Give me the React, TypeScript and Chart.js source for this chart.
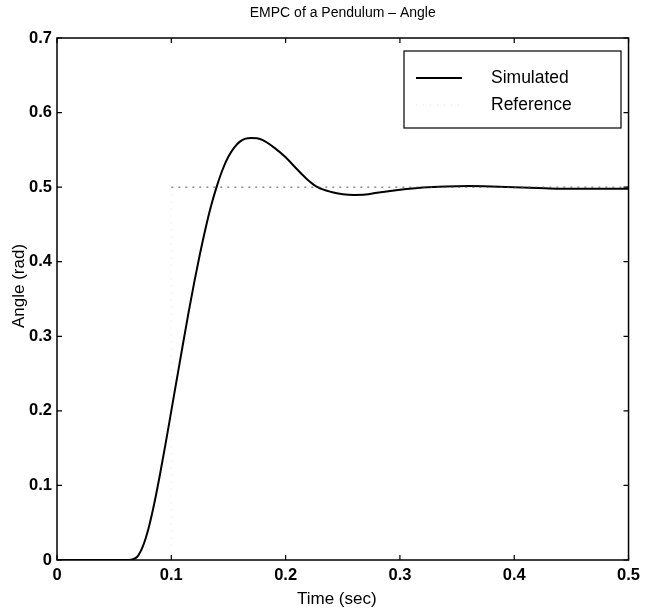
import React, { useEffect, useRef } from "react";
import { Chart, registerables } from "chart.js";

Chart.register(...registerables);

const timeSec = [0, 0.06, 0.065, 0.07, 0.075, 0.08, 0.085, 0.09, 0.095, 0.1, 0.105, 0.11, 0.115, 0.12, 0.125, 0.13, 0.135, 0.14, 0.145, 0.15, 0.155, 0.16, 0.165, 0.17, 0.175, 0.18, 0.19, 0.2, 0.21, 0.22, 0.228, 0.24, 0.25, 0.26, 0.27, 0.28, 0.3, 0.32, 0.34, 0.36, 0.38, 0.4, 0.42, 0.44, 0.47, 0.5];
const simulated = [0, 0, 0.0005, 0.004, 0.018, 0.042, 0.075, 0.114, 0.156, 0.2, 0.244, 0.288, 0.331, 0.372, 0.41, 0.445, 0.476, 0.502, 0.524, 0.541, 0.553, 0.561, 0.565, 0.566, 0.5655, 0.563, 0.553, 0.54, 0.524, 0.509, 0.5, 0.4935, 0.4905, 0.4895, 0.49, 0.4925, 0.4965, 0.4995, 0.501, 0.5015, 0.501, 0.5, 0.499, 0.498, 0.498, 0.498];

const refTime = [0, 0.1, 0.1, 0.5];
const reference = [0, 0, 0.5, 0.5];

const xTicks = [0, 0.1, 0.2, 0.3, 0.4, 0.5];
const yTicks = [0, 0.1, 0.2, 0.3, 0.4, 0.5, 0.6, 0.7];

const titleText = "EMPC of a Pendulum – Angle";
const xTitle = "Time (sec)";
const yTitle = "Angle (rad)";
const legendLabels = ["Simulated", "Reference"];

const FONT = "'Liberation Sans', Arial, Helvetica, sans-serif";

const fmt = (v: number) => String(parseFloat(Number(v).toFixed(1)));

const framePlugin = {
  id: "frame",
  afterDraw(chart: any) {
    const { ctx, chartArea: a, scales } = chart;
    const xs = scales.x;
    const ys = scales.y;
    ctx.save();
    ctx.strokeStyle = "#000";
    ctx.lineWidth = 1.5;
    ctx.strokeRect(a.left, a.top, a.right - a.left, a.bottom - a.top);
    const tl = 5;
    ctx.lineWidth = 1.2;
    ctx.beginPath();
    xTicks.forEach((t) => {
      const px = xs.getPixelForValue(t);
      ctx.moveTo(px, a.bottom);
      ctx.lineTo(px, a.bottom - tl);
      ctx.moveTo(px, a.top);
      ctx.lineTo(px, a.top + tl);
    });
    yTicks.forEach((t) => {
      const py = ys.getPixelForValue(t);
      ctx.moveTo(a.left, py);
      ctx.lineTo(a.left + tl, py);
      ctx.moveTo(a.right, py);
      ctx.lineTo(a.right - tl, py);
    });
    ctx.stroke();

    // title
    ctx.fillStyle = "#000";
    ctx.textAlign = "center";
    ctx.textBaseline = "middle";
    ctx.font = `14px ${FONT}`;
    ctx.fillText(titleText, (a.left + a.right) / 2, 13);

    // axis titles
    ctx.font = `17px ${FONT}`;
    ctx.fillText(xTitle, (a.left + a.right) / 2 - 6, 599);
    ctx.save();
    ctx.translate(19, 286);
    ctx.rotate(-Math.PI / 2);
    ctx.fillText(yTitle, 0, 0);
    ctx.restore();

    // legend
    const lx = 404, ly = 51, lw = 217, lh = 77;
    ctx.fillStyle = "#fff";
    ctx.fillRect(lx, ly, lw, lh);
    ctx.strokeStyle = "#000";
    ctx.lineWidth = 1.2;
    ctx.strokeRect(lx, ly, lw, lh);
    ctx.lineWidth = 1.8;
    ctx.beginPath();
    ctx.moveTo(416, 78);
    ctx.lineTo(462, 78);
    ctx.stroke();
    ctx.strokeStyle = "rgba(0,0,0,0.12)";
    ctx.lineWidth = 1;
    ctx.setLineDash([1, 6]);
    ctx.beginPath();
    ctx.moveTo(416, 105);
    ctx.lineTo(462, 105);
    ctx.stroke();
    ctx.setLineDash([]);
    ctx.fillStyle = "#000";
    ctx.textAlign = "left";
    ctx.font = `17.5px ${FONT}`;
    ctx.fillText(legendLabels[0], 491, 78);
    ctx.fillText(legendLabels[1], 491, 105);
    ctx.restore();
  },
};

export default function App() {
  const ref = useRef<HTMLCanvasElement | null>(null);
  useEffect(() => {
    if (!ref.current) return;
    const chart = new Chart(ref.current, {
      type: "line",
      data: {
        datasets: [
          {
            label: legendLabels[1],
            data: refTime.map((t, i) => ({ x: t, y: reference[i] })),
            borderColor: "#555",
            borderWidth: 1,
            borderDash: [2, 5],
            pointRadius: 0,
            tension: 0,
            segment: {
              borderColor: (c: any) =>
                c.p0.parsed.x === c.p1.parsed.x ? "rgba(0,0,0,0.06)" : c.p0.parsed.y === 0 ? "rgba(0,0,0,0)" : "#555",
            },
          },
          {
            label: legendLabels[0],
            data: timeSec.map((t, i) => ({ x: t, y: simulated[i] })),
            borderColor: "#000",
            borderWidth: 2,
            pointRadius: 0,
            cubicInterpolationMode: "monotone",
          },
        ],
      },
      options: {
        animation: false,
        responsive: false,
        devicePixelRatio: 1,
        layout: { padding: { top: 38, right: 12, left: 0, bottom: 0 } },
        plugins: { legend: { display: false }, title: { display: false }, tooltip: { enabled: false } },
        scales: {
          x: {
            type: "linear",
            min: 0,
            max: 0.5,
            grid: { display: false, drawTicks: false, tickLength: 0 },
            border: { display: false },
            afterFit: (s: any) => { s.height = 49; },
            afterBuildTicks: (s: any) => { s.ticks = xTicks.map((v) => ({ value: v })); },
            ticks: {
              padding: 6,
              color: "#000",
              maxRotation: 0,
              font: { family: FONT, size: 16.5, weight: "bold" },
              callback: (v: any) => fmt(v),
            },
          },
          y: {
            type: "linear",
            min: 0,
            max: 0.7,
            grid: { display: false, drawTicks: false, tickLength: 0 },
            border: { display: false },
            afterFit: (s: any) => { s.width = 57; },
            afterBuildTicks: (s: any) => { s.ticks = yTicks.map((v) => ({ value: v })); },
            ticks: {
              padding: 5,
              color: "#000",
              font: { family: FONT, size: 16.5, weight: "bold" },
              callback: (v: any) => fmt(v),
            },
          },
        },
      },
      plugins: [framePlugin],
    } as any);
    return () => chart.destroy();
  }, []);
  return (
    <div style={{ position: "absolute", left: 0, top: 0, width: 646, height: 609, background: "#fff" }}>
      <canvas ref={ref} width={646} height={609} />
    </div>
  );
}
